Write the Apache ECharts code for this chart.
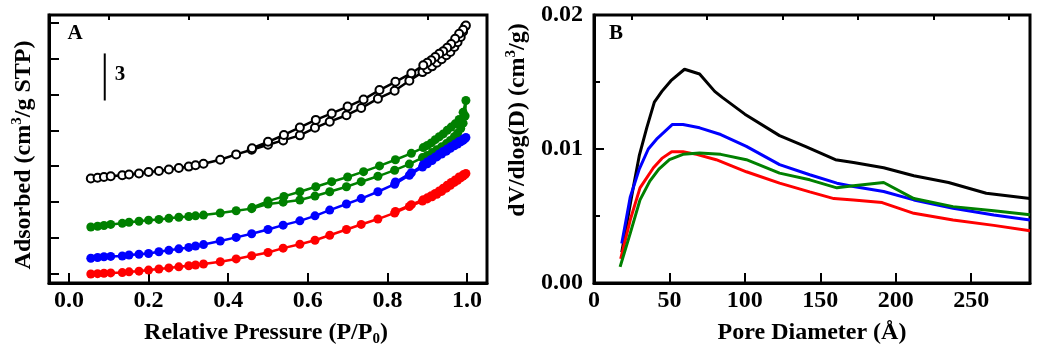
<!DOCTYPE html>
<html><head><meta charset="utf-8">
<script src="https://cdn.jsdelivr.net/npm/echarts@6/dist/echarts.min.js"></script>
<style>html,body{margin:0;padding:0;background:#fff}#c{width:1037px;height:353px}</style>
</head><body><div id="c"></div>
<script>
// ---------- Panel A: N2 isotherms (offset, arbitrary units of tick spacing) ----------
const pressureAds = [0.055,0.072,0.088,0.105,0.134,0.151,0.176,0.2,0.226,0.251,0.276,0.301,0.318,0.338,0.38,0.42,0.459,0.5,0.538,0.58,0.618,0.655,0.697,0.734,0.776,0.818,0.855,0.888,0.9,0.912,0.924,0.936,0.948,0.958,0.968,0.976,0.984,0.99,0.995];
const blackAds = [2.66,2.68,2.7,2.72,2.75,2.77,2.8,2.84,2.87,2.91,2.95,2.99,3.03,3.07,3.18,3.33,3.46,3.6,3.72,3.86,4.07,4.24,4.42,4.62,4.88,5.1,5.38,5.62,5.7,5.78,5.88,5.98,6.09,6.18,6.32,6.45,6.6,6.75,6.89];
const greenAds = [1.31,1.33,1.35,1.38,1.41,1.44,1.47,1.5,1.52,1.55,1.58,1.6,1.62,1.64,1.7,1.76,1.82,1.95,2.0,2.06,2.17,2.29,2.43,2.57,2.72,2.89,3.06,3.24,3.3,3.38,3.46,3.54,3.63,3.72,3.82,3.92,4.05,4.2,4.4];
const blueAds = [0.44,0.46,0.48,0.49,0.5,0.53,0.55,0.57,0.62,0.66,0.7,0.74,0.78,0.82,0.92,1.02,1.12,1.24,1.36,1.48,1.62,1.78,1.95,2.1,2.29,2.5,2.75,2.98,3.07,3.16,3.26,3.34,3.42,3.5,3.57,3.62,3.68,3.72,3.77];
const redAds = [0,0.01,0.02,0.03,0.04,0.06,0.08,0.11,0.14,0.17,0.2,0.23,0.25,0.28,0.34,0.42,0.51,0.6,0.72,0.83,0.94,1.08,1.24,1.38,1.53,1.7,1.88,2.03,2.09,2.15,2.22,2.3,2.39,2.47,2.55,2.61,2.68,2.73,2.77];

const pressureDes = [0.997,0.99,0.98,0.97,0.96,0.95,0.94,0.93,0.92,0.91,0.9,0.89,0.86,0.82,0.78,0.74,0.70,0.66,0.62,0.58,0.54,0.50,0.46];
const blackDes = [6.92,6.8,6.69,6.55,6.4,6.3,6.2,6.13,6.04,5.95,5.88,5.81,5.59,5.35,5.12,4.86,4.66,4.47,4.29,4.08,3.87,3.68,3.5];
const greenDes = [4.83,4.5,4.3,4.18,4.09,4.0,3.9,3.82,3.74,3.65,3.58,3.52,3.36,3.18,3.01,2.85,2.7,2.57,2.43,2.29,2.16,2.03,1.85];
const blueDes = [3.8,3.75,3.69,3.62,3.55,3.48,3.41,3.34,3.26,3.19,3.12,3.04,2.82,2.56];
const redDes = [2.8,2.76,2.7,2.62,2.55,2.47,2.39,2.31,2.24,2.18,2.12,2.07,1.93,1.74];

const xTicksA = [0,0.2,0.4,0.6,0.8,1.0];
const xMinorTicksA = [0.1,0.3,0.5,0.7,0.9];
const yTicksA = [0,1,2,3,4,5,6,7];
const scaleBarX = [0.09,0.09];
const scaleBarY = [4.83,6.14];

// ---------- Panel B: pore size distributions ----------
const blackD = [18.4,25,30,35,40,45,51,60,70,80,85,100,123,140,160,172,192,212,235,260,289];
const blackV = [0.0023,0.0065,0.0095,0.0116,0.0135,0.0143,0.0151,0.01595,0.0156,0.0143,0.01385,0.0126,0.011,0.0102,0.0092,0.009,0.0086,0.008,0.0075,0.0067,0.0063];
const blueD = [18.4,24,30,36,42,52,59,70,84,101,123,143,161,172,192,212,238,265,289];
const blueV = [0.00295,0.0064,0.0085,0.0100,0.0108,0.01183,0.01183,0.01158,0.01108,0.0102,0.00883,0.00808,0.00745,0.0072,0.00683,0.0062,0.00558,0.00508,0.0047];
const redD = [17.7,24,30.5,39.4,45,51.5,59,68,81,101,123,143,159,172,191,212,238,265,289];
const redV = [0.0018,0.0047,0.0071,0.0086,0.0093,0.0098,0.0098,0.0096,0.0092,0.0083,0.00745,0.0068,0.0063,0.0062,0.006,0.0052,0.0047,0.0043,0.0039];
const greenD = [17.3,24,30.5,37,43,50,59,70,84,101,123,143,161,172,192,212,238,265,289];
const greenV = [0.0012,0.0037,0.0062,0.0076,0.0085,0.0092,0.0096,0.0097,0.0096,0.0092,0.0082,0.0077,0.0071,0.00725,0.0075,0.0063,0.0057,0.0054,0.0051];

const xTicksB = [0,50,100,150,200,250];
const xMinorTicksB = [25,75,125,175,225,275];

const COLORS = {black:'#000000', green:'#008000', blue:'#0000ff', red:'#ff0000'};
const FONT = 'Liberation Serif, Times New Roman, serif';

function zip(xs, ys){ return ys.map((y,i)=>[xs[i], y]); }
function loop(ads, des){ return zip(pressureAds, ads).concat(zip(pressureDes, des)); }

const labelStyle = {color:'#000', fontFamily:FONT, fontWeight:'bold', fontSize:24};

function isoSeries(name, ads, des, hollow){
  return {
    type:'line', name, xAxisIndex:0, yAxisIndex:0,
    data: loop(ads, des),
    symbol: hollow ? 'emptyCircle' : 'circle',
    symbolSize: hollow ? 8 : 9,
    showAllSymbol:true,
    lineStyle:{color:COLORS[name], width:2.5},
    itemStyle:{color: COLORS[name], borderColor:COLORS[name], borderWidth: hollow ? 3 : 0},
    animation:false, z:3
  };
}
function psdSeries(name, xs, ys){
  return {type:'line', name, xAxisIndex:2, yAxisIndex:1, data:zip(xs, ys), symbol:'none',
    lineStyle:{color:COLORS[name], width:3}, animation:false};
}
const axLine = {show:true, onZero:false, lineStyle:{color:'#000', width:3}};

const chart = echarts.init(document.getElementById('c'), null, {renderer:'canvas'});
chart.setOption({
  animation:false,
  backgroundColor:'#fff',
  grid:[
    {left:49, top:15, width:438, height:268, show:true, borderColor:'#000', borderWidth:3, backgroundColor:'transparent'},
    {left:594, top:15, width:436, height:268, show:true, borderColor:'#000', borderWidth:3, backgroundColor:'transparent'}
  ],
  xAxis:[
    {gridIndex:0, type:'value', min:-0.05, max:1.05,
      axisLine:axLine,
      axisTick:{show:true, inside:true, length:10, lineStyle:{width:2, color:'#000'}, customValues:xTicksA},
      axisLabel:{show:true, customValues:xTicksA, margin:6, formatter:v=>v.toFixed(1), ...labelStyle},
      splitLine:{show:false}},
    {gridIndex:0, type:'value', min:-0.05, max:1.05,
      axisLine:{show:false, onZero:false},
      axisTick:{show:true, inside:true, length:5, lineStyle:{width:2, color:'#000'}, customValues:xMinorTicksA},
      axisLabel:{show:false}, splitLine:{show:false}},
    {gridIndex:1, type:'value', min:0, max:289,
      axisLine:axLine,
      axisTick:{show:true, inside:true, length:10, lineStyle:{width:2, color:'#000'}, customValues:xTicksB},
      axisLabel:{show:true, customValues:xTicksB, margin:6, ...labelStyle},
      splitLine:{show:false}},
    {gridIndex:1, type:'value', min:0, max:289,
      axisLine:{show:false, onZero:false},
      axisTick:{show:true, inside:true, length:5, lineStyle:{width:2, color:'#000'}, customValues:xMinorTicksB},
      axisLabel:{show:false}, splitLine:{show:false}}
  ],
  yAxis:[
    {gridIndex:0, type:'value', min:-0.25, max:7.21,
      axisLine:axLine,
      axisTick:{show:true, inside:true, length:10, lineStyle:{width:2, color:'#000'}, customValues:yTicksA},
      axisLabel:{show:false}, splitLine:{show:false}},
    {gridIndex:1, type:'value', min:0, max:0.02, interval:0.01,
      axisLine:axLine,
      axisTick:{show:true, inside:true, length:10, lineStyle:{width:2, color:'#000'}},
      minorTick:{show:true, splitNumber:2, length:6, lineStyle:{width:2, color:'#000'}},
      axisLabel:{show:true, margin:11, formatter:v=>v.toFixed(2), ...labelStyle},
      splitLine:{show:false}}
  ],
  series:[
    isoSeries('black', blackAds, blackDes, true),
    isoSeries('green', greenAds, greenDes, false),
    isoSeries('blue', blueAds, blueDes, false),
    isoSeries('red', redAds, redDes, false),
    {type:'line', xAxisIndex:0, yAxisIndex:0, data:zip(scaleBarX, scaleBarY), symbol:'none',
      lineStyle:{color:'#000', width:2}, animation:false},
    psdSeries('black', blackD, blackV),
    psdSeries('blue', blueD, blueV),
    psdSeries('red', redD, redV),
    psdSeries('green', greenD, greenV)
  ],
  graphic:[
    {type:'text', x:75, y:34, style:{text:'A', fill:'#000', font:'bold 21px '+FONT, textAlign:'center', textVerticalAlign:'middle'}},
    {type:'text', x:616, y:34, style:{text:'B', fill:'#000', font:'bold 21px '+FONT, textAlign:'center', textVerticalAlign:'middle'}},
    {type:'text', x:120, y:75, style:{text:'3', fill:'#000', font:'bold 21px '+FONT, textAlign:'center', textVerticalAlign:'middle'}},
    {type:'text', x:266, y:333, style:{
      text:'{n|Relative Pressure (P/P}{s|0}{n|)}', textAlign:'center', textVerticalAlign:'middle',
      rich:{n:{fontFamily:FONT, fontWeight:'bold', fontSize:24, fill:'#000', lineHeight:28, verticalAlign:'middle'},
            s:{fontFamily:FONT, fontWeight:'bold', fontSize:15, fill:'#000', lineHeight:28, verticalAlign:'bottom', padding:[11,0,0,0]}}}},
    {type:'text', x:812, y:333, style:{
      text:'Pore Diameter (Å)', fill:'#000', font:'bold 24px '+FONT, textAlign:'center', textVerticalAlign:'middle'}},
    {type:'text', x:24, y:155, rotation:Math.PI/2, style:{
      text:'{n|Adsorbed (cm}{s|3}{n|/g STP)}', textAlign:'center', textVerticalAlign:'middle',
      rich:{n:{fontFamily:FONT, fontWeight:'bold', fontSize:24, fill:'#000', lineHeight:28, verticalAlign:'middle'},
            s:{fontFamily:FONT, fontWeight:'bold', fontSize:15, fill:'#000', lineHeight:28, verticalAlign:'top', padding:[0,0,11,0]}}}},
    {type:'text', x:518, y:120, rotation:Math.PI/2, style:{
      text:'{n|dV/dlog(D) (cm}{s|3}{n|/g)}', textAlign:'center', textVerticalAlign:'middle',
      rich:{n:{fontFamily:FONT, fontWeight:'bold', fontSize:24, fill:'#000', lineHeight:28, verticalAlign:'middle'},
            s:{fontFamily:FONT, fontWeight:'bold', fontSize:15, fill:'#000', lineHeight:28, verticalAlign:'top', padding:[0,0,11,0]}}}}
  ]
});
</script></body></html>
